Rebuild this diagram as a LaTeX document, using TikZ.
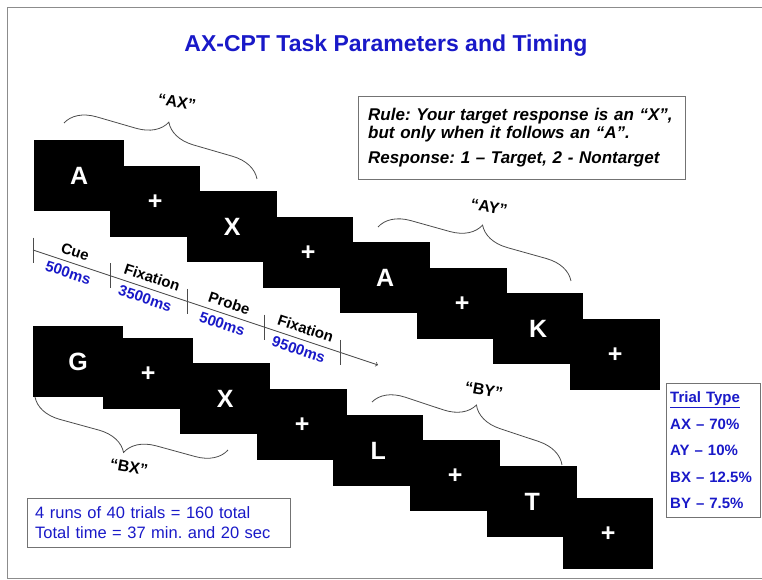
\documentclass[tikz,border=0pt]{standalone}
\usepackage{fontspec}
\setmainfont{Liberation Sans}
\usepackage{tikz}
\usetikzlibrary{decorations.pathreplacing}
\definecolor{slideblue}{RGB}{25,25,200}
\frenchspacing

\begin{document}
\begin{tikzpicture}[x=1pt,y=-1pt,
  stim/.style={
      fill=black,
      text=white,
      minimum width=90pt,
      minimum height=71pt,
      inner sep=0pt,
      anchor=north west,
      font=\bfseries\fontsize{25}{25}\selectfont
    }]
\tikzset{infobox/.style = {draw=black!55,anchor=north west,align=left,inner ysep=0pt}}
\tikzset{curly/.style = {decorate,decoration={brace,amplitude=30pt},draw=black!70,line width=0.8pt}}
\tikzset{trialname/.style = {font=\bfseries\fontsize{16}{16}\selectfont,rotate=-10}}
\tikzset{phase/.style = {font=\bfseries\fontsize{15}{15}\selectfont,sloped,inner sep=1pt}}
\tikzset{dur/.style = {phase,text=slideblue}}
\useasboundingbox (0,0) rectangle (762,580);
\draw[black!45,line width=0.8pt] (762,7) -- (7,7) -- (7,578) -- (762,578);
\node[text=slideblue,font=\bfseries\fontsize{23}{23}\selectfont] (title) at (386,46) {AX-CPT Task Parameters and Timing};
% AX then AY
\node[stim] (a1) at (34,140) {A};
\node[stim] (a2) at (110,166) {+};
\node[stim] (a3) at (187,191) {X};
\node[stim] (a4) at (263,217) {+};
\node[stim] (a5) at (340,242) {A};
\node[stim] (a6) at (417,268) {+};
\node[stim] (a7) at (493,293) {K};
\node[stim] (a8) at (570,319) {+};
% BX then BY
\node[stim] (b1) at (33,326) {G};
\node[stim] (b2) at (103,338) {+};
\node[stim] (b3) at (180,363) {X};
\node[stim] (b4) at (257,389) {+};
\node[stim] (b5) at (333,415) {L};
\node[stim] (b6) at (410,440) {+};
\node[stim] (b7) at (487,466) {T};
\node[stim] (b8) at (563,498) {+};
% braces
\coordinate (ax1) at (64,123);
\coordinate (ax2) at (257,179);
\coordinate (ay1) at (378,227);
\coordinate (ay2) at (571,281);
\coordinate (bx1) at (228,450);
\coordinate (bx2) at (35,397);
\coordinate (by1) at (372,402);
\coordinate (by2) at (562,465);
\draw[curly] (ax1) -- (ax2);
\draw[curly] (ay1) -- (ay2);
\draw[curly] (bx1) -- (bx2);
\draw[curly] (by1) -- (by2);
\node[trialname] (axname) at (177,102) {“AX”};
\node[trialname] (ayname) at (489,207) {“AY”};
\node[trialname] (bxname) at (129,467) {“BX”};
\node[trialname] (byname) at (484,390) {“BY”};
% timeline
\coordinate (t0) at (33,250);
\coordinate (t1) at (110,275.67);
\coordinate (t2) at (187,301.33);
\coordinate (t3) at (264,327);
\coordinate (t4) at (340,352.33);
\coordinate (tend) at (378,365);
\draw[black!70,line width=0.8pt,->] (t0) -- (tend);
\draw[black!70,line width=0.8pt] ([yshift=12.5pt]t0) -- ([yshift=-12.5pt]t0);
\draw[black!70,line width=0.8pt] ([yshift=12.5pt]t1) -- ([yshift=-12.5pt]t1);
\draw[black!70,line width=0.8pt] ([yshift=12.5pt]t2) -- ([yshift=-12.5pt]t2);
\draw[black!70,line width=0.8pt] ([yshift=12.5pt]t3) -- ([yshift=-12.5pt]t3);
\draw[black!70,line width=0.8pt] ([yshift=12.5pt]t4) -- ([yshift=-12.5pt]t4);
\path (t0) -- (t1) node[phase,midway,above=5pt] (cue) {Cue} node[dur,midway,below=4pt] (cuems) {500ms};
\path (t1) -- (t2) node[phase,midway,above=5pt] (fix1) {Fixation} node[dur,midway,below=4pt] (fix1ms) {3500ms};
\path (t2) -- (t3) node[phase,midway,above=5pt] (probe) {Probe} node[dur,midway,below=4pt] (probems) {500ms};
\path (t3) -- (t4) node[phase,midway,above=5pt] (fix2) {Fixation} node[dur,midway,below=4pt] (fix2ms) {9500ms};
% text boxes
\node[infobox,minimum width=327pt,minimum height=83pt,text width=307pt,inner xsep=10pt,
  font=\bfseries\itshape\fontsize{17}{18}\selectfont] (rule) at (358,96)
  {Rule: Your target response is an “X”,\\ but only when it follows an “A”.\\[7pt] Response: 1 – Target, 2 - Nontarget};
\node[infobox,minimum width=94pt,minimum height=134pt,text width=86pt,inner xsep=4pt,text=slideblue,
  font=\bfseries\fontsize{15}{26.5}\selectfont] (types) at (666,383)
  {\underline{Trial Type}\\ AX – 70\%\\ AY – 10\%\\ BX – 12.5\%\\ BY – 7.5\%};
\node[infobox,minimum width=263pt,minimum height=49pt,text width=247pt,inner xsep=8pt,text=slideblue,
  font=\fontsize{16.5}{20}\selectfont] (runs) at (27,498)
  {4 runs of 40 trials = 160 total\\ Total time = 37 min. and 20 sec};
\end{tikzpicture}
\end{document}
